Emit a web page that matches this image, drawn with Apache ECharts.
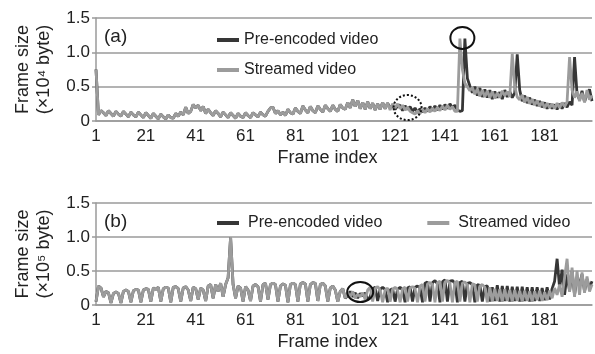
<!DOCTYPE html>
<html><head><meta charset="utf-8">
<script src="https://cdn.jsdelivr.net/npm/echarts@6/dist/echarts.min.js"></script>
<style>html,body{margin:0;padding:0;background:#fff}#c{width:595px;height:354px}</style>
</head><body><div id="c"></div>
<script>
// ---- data ----
const frames = Array.from({length: 200}, (_, i) => String(i + 1));
const xTickLabels = ['1','21','41','61','81','101','121','141','161','181'];
const seriesNames = ['Pre-encoded video', 'Streamed video'];
const panelLabels = ['(a)', '(b)'];
const yNames = ['Frame size\n(×10⁴ byte)', 'Frame size\n(×10⁵ byte)'];
const xName = 'Frame index';

// (a) frame size, x10^4 byte
const aStreamed = [
0.75,0.09,0.15,0.12,0.08,0.15,0.11,0.07,0.14,0.10,
0.07,0.14,0.10,0.06,0.13,0.09,0.06,0.13,0.09,0.05,
0.12,0.08,0.04,0.11,0.07,0.03,0.10,0.06,0.03,0.09,
0.05,0.04,0.11,0.07,0.13,0.09,0.20,0.11,0.14,0.24,
0.19,0.23,0.15,0.21,0.11,0.17,0.12,0.08,0.15,0.11,
0.06,0.13,0.09,0.05,0.12,0.08,0.04,0.11,0.07,0.05,
0.12,0.08,0.05,0.12,0.09,0.06,0.13,0.09,0.07,0.14,
0.19,0.20,0.11,0.15,0.09,0.13,0.08,0.17,0.12,0.10,
0.19,0.14,0.11,0.22,0.16,0.12,0.21,0.15,0.12,0.22,
0.17,0.13,0.23,0.18,0.14,0.23,0.17,0.14,0.24,0.19,
0.17,0.27,0.19,0.31,0.21,0.30,0.18,0.27,0.17,0.28,
0.18,0.26,0.16,0.25,0.17,0.27,0.18,0.26,0.16,0.25,
0.19,0.25,0.18,0.23,0.16,0.20,0.14,0.12,0.10,0.15,
0.11,0.17,0.12,0.18,0.13,0.19,0.14,0.20,0.15,0.22,
0.16,0.23,0.17,0.21,0.14,0.14,1.20,0.75,0.55,0.50,
0.44,0.49,0.39,0.47,0.36,0.45,0.35,0.44,0.34,0.43,
0.33,0.41,0.34,0.44,0.37,0.43,0.35,0.98,0.50,0.35,
0.31,0.38,0.27,0.35,0.25,0.32,0.23,0.30,0.21,0.28,
0.19,0.26,0.19,0.25,0.18,0.26,0.19,0.27,0.21,0.28,
0.93,0.45,0.34,0.43,0.29,0.41,0.27,0.45,0.31,0.37
];
const aPreEncoded = [
0.75,0.09,0.15,0.12,0.08,0.15,0.11,0.07,0.14,0.10,
0.07,0.14,0.10,0.06,0.13,0.09,0.06,0.13,0.09,0.05,
0.12,0.08,0.04,0.11,0.07,0.03,0.10,0.06,0.03,0.09,
0.05,0.04,0.11,0.07,0.13,0.09,0.20,0.11,0.14,0.24,
0.19,0.23,0.15,0.21,0.11,0.17,0.12,0.08,0.15,0.11,
0.06,0.13,0.09,0.05,0.12,0.08,0.04,0.11,0.07,0.05,
0.12,0.08,0.05,0.12,0.09,0.06,0.13,0.09,0.07,0.14,
0.19,0.20,0.11,0.15,0.09,0.13,0.08,0.17,0.12,0.10,
0.19,0.14,0.11,0.22,0.16,0.12,0.21,0.15,0.12,0.22,
0.17,0.13,0.23,0.18,0.14,0.23,0.17,0.14,0.24,0.19,
0.17,0.27,0.19,0.31,0.21,0.30,0.18,0.27,0.17,0.28,
0.18,0.26,0.16,0.25,0.17,0.27,0.18,0.26,0.19,0.22,
0.17,0.22,0.23,0.15,0.22,0.17,0.21,0.14,0.19,0.12,
0.18,0.13,0.19,0.14,0.21,0.15,0.22,0.16,0.23,0.17,
0.24,0.18,0.25,0.19,0.23,0.16,0.14,0.15,1.20,0.62,
0.51,0.41,0.50,0.37,0.48,0.35,0.46,0.34,0.45,0.32,
0.43,0.34,0.42,0.32,0.45,0.35,0.43,0.34,0.41,0.97,
0.45,0.29,0.37,0.26,0.34,0.24,0.31,0.22,0.29,0.20,
0.27,0.18,0.25,0.18,0.24,0.17,0.25,0.18,0.26,0.20,
0.28,0.23,0.93,0.39,0.31,0.44,0.28,0.39,0.46,0.29
];
// (b) frame size, x10^5 byte
const bStreamed = [
0.05,0.28,0.25,0.12,0.20,0.18,0.03,0.17,0.19,0.17,
0.03,0.20,0.22,0.20,0.04,0.21,0.23,0.22,0.04,0.22,
0.24,0.23,0.05,0.25,0.23,0.26,0.05,0.24,0.26,0.25,
0.04,0.26,0.27,0.24,0.05,0.25,0.27,0.22,0.06,0.26,
0.24,0.08,0.25,0.22,0.06,0.28,0.30,0.10,0.30,0.20,
0.32,0.12,0.30,0.40,1.00,0.30,0.10,0.28,0.25,0.05,
0.27,0.22,0.06,0.28,0.30,0.27,0.05,0.30,0.32,0.08,
0.30,0.32,0.30,0.05,0.28,0.31,0.29,0.04,0.30,0.32,
0.30,0.05,0.31,0.33,0.31,0.05,0.30,0.33,0.32,0.06,
0.30,0.32,0.28,0.05,0.25,0.28,0.22,0.05,0.20,0.24,
0.10,0.18,0.12,0.20,0.10,0.16,0.12,0.18,0.08,0.22,
0.26,0.05,0.24,0.27,0.22,0.04,0.22,0.25,0.05,0.23,
0.26,0.22,0.04,0.24,0.26,0.05,0.25,0.27,0.24,0.04,
0.28,0.30,0.05,0.31,0.33,0.30,0.04,0.33,0.35,0.05,
0.34,0.36,0.32,0.04,0.33,0.35,0.05,0.32,0.34,0.30,
0.04,0.31,0.30,0.05,0.28,0.30,0.26,0.04,0.26,0.05,
0.24,0.06,0.23,0.05,0.23,0.06,0.22,0.05,0.22,0.06,
0.21,0.05,0.21,0.06,0.20,0.05,0.20,0.07,0.21,0.06,
0.19,0.07,0.21,0.10,0.25,0.15,0.30,0.12,0.40,0.68,
0.20,0.55,0.12,0.50,0.15,0.48,0.18,0.42,0.20,0.30
];
const bPreEncoded = [
0.05,0.28,0.25,0.12,0.20,0.18,0.03,0.17,0.19,0.17,
0.03,0.20,0.22,0.20,0.04,0.21,0.23,0.22,0.04,0.22,
0.24,0.23,0.05,0.25,0.23,0.26,0.05,0.24,0.26,0.25,
0.04,0.26,0.27,0.24,0.05,0.25,0.27,0.22,0.06,0.26,
0.24,0.08,0.25,0.22,0.06,0.28,0.30,0.10,0.30,0.20,
0.32,0.12,0.30,0.40,1.00,0.30,0.10,0.28,0.25,0.05,
0.27,0.22,0.06,0.28,0.30,0.27,0.05,0.30,0.32,0.08,
0.30,0.32,0.30,0.05,0.28,0.31,0.29,0.04,0.30,0.32,
0.30,0.05,0.31,0.33,0.31,0.05,0.30,0.33,0.32,0.06,
0.30,0.32,0.28,0.05,0.25,0.28,0.22,0.05,0.20,0.24,
0.10,0.14,0.20,0.12,0.18,0.10,0.17,0.13,0.18,0.08,
0.12,0.24,0.26,0.06,0.23,0.26,0.23,0.04,0.22,0.24,
0.05,0.23,0.26,0.22,0.04,0.25,0.27,0.05,0.26,0.28,
0.25,0.04,0.32,0.34,0.05,0.33,0.36,0.31,0.04,0.34,
0.37,0.05,0.35,0.36,0.32,0.04,0.33,0.35,0.05,0.32,
0.33,0.30,0.04,0.30,0.29,0.05,0.27,0.28,0.05,0.26,
0.06,0.29,0.05,0.28,0.06,0.28,0.05,0.27,0.06,0.27,
0.05,0.27,0.06,0.26,0.05,0.26,0.06,0.26,0.06,0.25,
0.07,0.26,0.08,0.24,0.35,0.68,0.25,0.52,0.15,0.45,
0.20,0.50,0.15,0.40,0.30,0.45,0.20,0.38,0.25,0.35
];
// annotation marks (data coordinates: frame number, value)
const annotations = [
  {grid: 0, frame: 148, value: 1.21, rx: 12, ry: 11, dashed: false},
  {grid: 0, frame: 126.3, value: 0.196, rx: 14, ry: 12.5, dashed: true},
  {grid: 1, frame: 107, value: 0.19, rx: 13, ry: 10, dashed: false}
];

// ---- styles ----
const FONT = 'Liberation Sans, Arial, sans-serif';
const TXT = '#222';
const GRIDC = '#9a9a9a';
const colors = ['#363636', '#9c9c9c'];

const chart = echarts.init(document.getElementById('c'), null, {renderer: 'canvas'});

const grids = [
  {left: 96, right: 3, top: 18, height: 103, outerBoundsMode: 'none'},
  {left: 96, right: 3, top: 203, height: 102, outerBoundsMode: 'none'}
];

function xAxis(i) {
  return {
    type: 'category', gridIndex: i, data: frames, boundaryGap: false,
    axisLine: {show: true, lineStyle: {color: GRIDC, width: 1.5}},
    axisTick: {show: false},
    axisLabel: {interval: (idx, val) => xTickLabels.includes(val),
      color: TXT, fontSize: 17, fontFamily: FONT, margin: 7, hideOverlap: false},
    splitLine: {show: false},
    name: xName, nameLocation: 'middle', nameGap: 28,
    nameTextStyle: {color: TXT, fontSize: 18, fontFamily: FONT, padding: [0, 33, 0, 0]}
  };
}
function yAxis(i) {
  return {
    type: 'value', gridIndex: i, min: 0, max: 1.5, interval: 0.5,
    axisLine: {show: true, lineStyle: {color: GRIDC, width: 1.5}},
    axisTick: {show: true, length: 4, lineStyle: {color: GRIDC, width: 1.5}},
    axisLabel: {color: TXT, fontSize: 17, fontFamily: FONT, margin: 6,
      formatter: v => v === 0 ? '0' : v.toFixed(1)},
    splitLine: {show: true, lineStyle: {color: GRIDC, width: 1.5}},
    name: yNames[i], nameLocation: 'middle', nameGap: 41, nameRotate: 90,
    nameTextStyle: {color: TXT, fontSize: 18, fontFamily: FONT, lineHeight: 21}
  };
}
function line(name, data, gi, color, z) {
  return {
    type: 'line', name, data, xAxisIndex: gi, yAxisIndex: gi,
    showSymbol: false, symbol: 'none', color, z,
    lineStyle: {color, width: 2.8}, animation: false
  };
}

chart.setOption({
  animation: false,
  grid: grids,
  xAxis: [xAxis(0), xAxis(1)],
  yAxis: [yAxis(0), yAxis(1)],
  legend: [
    {data: seriesNames, orient: 'vertical', left: 212, top: 27, itemGap: 14,
     icon: 'rect', itemWidth: 22, itemHeight: 4,
     textStyle: {color: TXT, fontSize: 16, fontFamily: FONT}},
    {data: seriesNames, orient: 'horizontal', left: 212, top: 210, itemGap: 45,
     icon: 'rect', itemWidth: 22, itemHeight: 4,
     textStyle: {color: TXT, fontSize: 16, fontFamily: FONT, padding: [0, 0, 0, 4]}}
  ],
  series: [
    line(seriesNames[0], aPreEncoded, 0, colors[0], 2),
    line(seriesNames[1], aStreamed, 0, colors[1], 3),
    line(seriesNames[0], bPreEncoded, 1, colors[0], 2),
    line(seriesNames[1], bStreamed, 1, colors[1], 3)
  ]
});

const gfx = [];
panelLabels.forEach((t, i) => {
  const p = chart.convertToPixel({gridIndex: i}, [0, 1.5]);
  gfx.push({type: 'text', left: p[0] + 8, top: p[1] + 9,
    style: {text: t, fill: TXT, fontSize: 19, fontFamily: FONT}});
});
annotations.forEach(a => {
  const p = chart.convertToPixel({gridIndex: a.grid}, [a.frame - 1, a.value]);
  gfx.push({type: 'ellipse', z: 100,
    shape: {cx: p[0], cy: p[1], rx: a.rx, ry: a.ry},
    style: {fill: 'none', stroke: '#111', lineWidth: 2, lineDash: a.dashed ? [2, 2] : null}});
});
chart.setOption({graphic: gfx});
</script>
</body></html>
